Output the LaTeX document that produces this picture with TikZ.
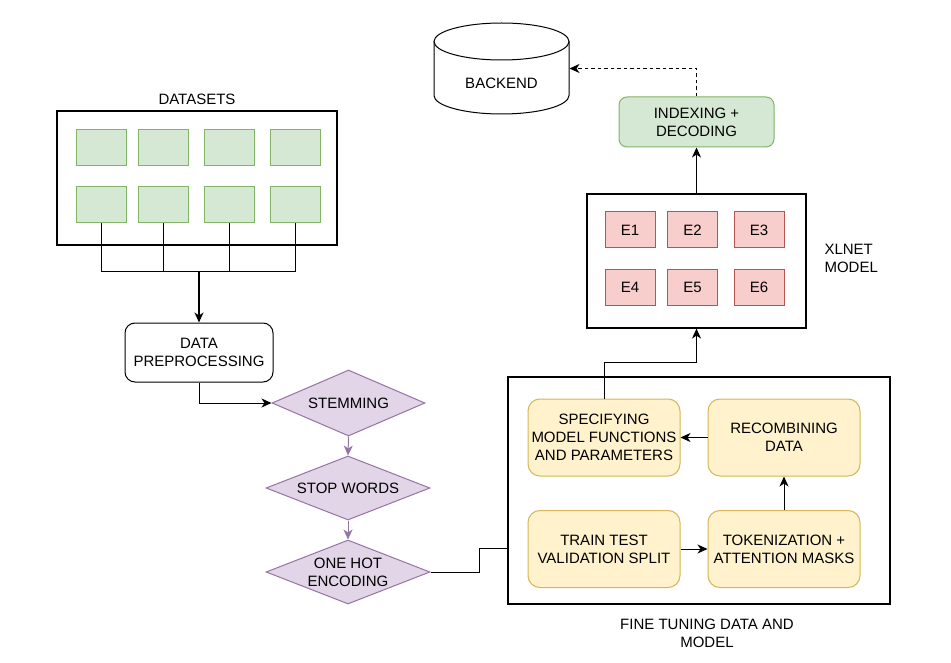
\documentclass[tikz,border=0pt]{standalone}
\usepackage{fontspec}
\setmainfont{Liberation Sans}
\usetikzlibrary{arrows.meta}
\usetikzlibrary{shapes.geometric}

\definecolor{greenfill}{HTML}{D5E8D4}
\definecolor{greenline}{HTML}{82B366}
\definecolor{redfill}{HTML}{F8CECC}
\definecolor{redline}{HTML}{B85450}
\definecolor{purplefill}{HTML}{E1D5E7}
\definecolor{purpleline}{HTML}{9673A6}
\definecolor{yellowfill}{HTML}{FFF2CC}
\definecolor{yellowline}{HTML}{D6B656}

\begin{document}
\begin{tikzpicture}[x=1pt,y=-1pt,line width=1pt,
	every node/.style={black,font=\fontsize{15}{18}\selectfont,align=center,inner sep=0pt},
	arr/.style={-{Stealth[length=10pt,width=9pt,inset=3pt]}},
	container/.style={draw,line width=1.2pt},
	cell/.style={draw=greenline,fill=greenfill,minimum width=50pt,minimum height=36pt},
	enc/.style={draw=redline,fill=redfill,minimum width=50pt,minimum height=36pt},
	stage/.style={draw=yellowline,fill=yellowfill,rounded corners=12pt,minimum width=152pt,minimum height=77pt},
	dia/.style={diamond,draw=purpleline,fill=purplefill,inner sep=0pt}
]
	\fill[white] (0,0) rectangle (951,663);
	\useasboundingbox (0,0) rectangle (951,663);

	\node[container,minimum width=280pt,minimum height=134pt,
		label={[label distance=5.5pt]above:DATASETS}] (datasets) at (197,178) {};
	\foreach \x [count=\i] in {101,163,229.5,295.5} {
		\node[cell] (top\i) at (\x,147.5) {};
		\node[cell] (bot\i) at (\x,205) {};
	}
	\coordinate (join) at (199,272);
	\foreach \i in {1,...,4}
		\draw (bot\i.south) |- (join);

	\node[draw,rounded corners=10pt,minimum width=148pt,minimum height=59pt] (prep) at (199,352.5) {DATA\\PREPROCESSING};
	\draw[arr,line width=1.5pt] (join) -- (prep.north);

	\node[dia,minimum width=153pt,minimum height=66pt,label=center:STEMMING] (stem) at (348.5,403) {};
	\node[dia,minimum width=164pt,minimum height=64pt,label=center:STOP WORDS] (stop) at (348,488) {};
	\node[dia,minimum width=164pt,minimum height=64pt,label={[align=center]center:ONE HOT\\ENCODING}] (onehot) at (348,572) {};
	\draw[arr] (prep.south) |- (stem.west);
	\draw[arr,draw=purpleline] (stem.south) -- (stop.north);
	\draw[arr,draw=purpleline] (stop.south) -- (onehot.north);

	\node[container,minimum width=382pt,minimum height=227pt] (fine) at (699,490.5) {};
	\node (finelbl) at (707,633.5) {FINE TUNING DATA AND\\MODEL};
	\coordinate (ftin) at (508,548);
	\draw (onehot.east) -- ++(48.5,0) |- (ftin);

	\node[stage] (spec) at (604,437.5) {SPECIFYING\\MODEL FUNCTIONS\\AND PARAMETERS};
	\node[stage] (recomb) at (784,437.5) {RECOMBINING\\DATA};
	\node[stage] (split) at (604,549) {TRAIN TEST\\VALIDATION SPLIT};
	\node[stage] (token) at (784,549) {TOKENIZATION +\\ATTENTION MASKS};
	\draw[arr] (split.east) -- (token.west);
	\draw[arr] (token.north) -- (recomb.south);
	\draw[arr] (recomb.west) -- (spec.east);

	\node[container,minimum width=219pt,minimum height=134pt] (xlnet) at (696.5,261) {};
	\node[anchor=west,align=left] (xlnetlbl) at (824,258) {XLNET\\MODEL};
	\foreach \x/\a/\b in {630/1/4,692.5/2/5,759/3/6} {
		\node[enc] (e\a) at (\x,230) {E\a};
		\node[enc] (e\b) at (\x,287.5) {E\b};
	}
	\draw[arr] (spec.north) -- ++(0,-36) -| (xlnet.south);

	\node[draw=greenline,fill=greenfill,rounded corners=8pt,minimum width=155pt,minimum height=50pt] (index) at (696.5,122) {INDEXING +\\DECODING};
	\draw[arr] (xlnet.north) -- (index.south);

	\node[minimum width=135pt,minimum height=91pt,label={[yshift=-14.5pt]center:BACKEND}] (backend) at (501.5,68.5) {};
	\draw (434,41.5) -- (434,95.5) .. controls (434,105.7) and (464.2,114) .. (501.5,114)
		.. controls (538.8,114) and (569,105.7) .. (569,95.5) -- (569,41.5);
	\draw (501.5,41.5) ellipse [x radius=67.5pt,y radius=18.5pt];
	\draw[arr,line width=1.4pt,dash pattern=on 3.5pt off 3pt] (index.north) |- (backend.east);
\end{tikzpicture}
\end{document}
